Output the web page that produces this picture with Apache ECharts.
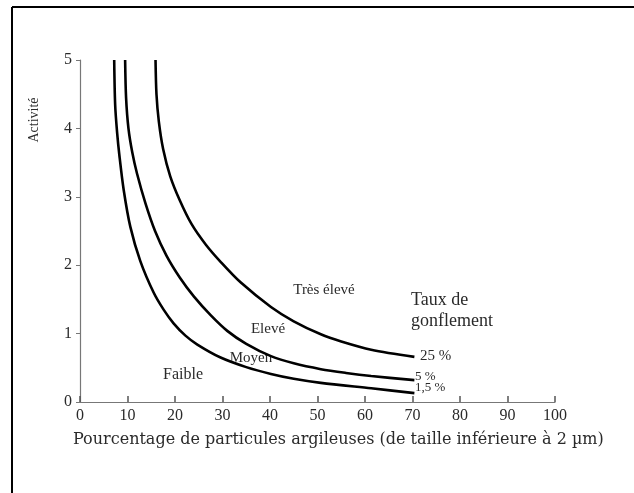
<!DOCTYPE html>
<html><head><meta charset="utf-8">
<script src="https://cdn.jsdelivr.net/npm/echarts@6/dist/echarts.min.js"></script>
<style>html,body{margin:0;padding:0;background:#fff}#c{width:634px;height:493px}</style>
</head><body><div id="c"></div>
<script>
// Curve 25 % (Très élevé)
const curve25 = [[15.9,5],[16.1,4.5],[16.6,4.1],[17.5,3.7],[19.0,3.3],[21.0,2.95],[23.5,2.6],[26.5,2.3],[29.6,2.05],[33.8,1.75],[40.2,1.39],[45,1.18],[50.7,0.99],[55,0.885],[61.3,0.765],[70.4,0.66]];
// Curve 5 % (Elevé)
const curve5 = [[9.5,5],[9.7,4.45],[10.2,4.0],[11.0,3.65],[12.0,3.34],[13.8,2.9],[15.8,2.5],[18.2,2.14],[21,1.82],[24,1.54],[27.5,1.27],[31,1.04],[35,0.85],[40.2,0.67],[45,0.565],[50.7,0.48],[56,0.425],[61.3,0.38],[70.4,0.32]];
// Curve 1,5 % (Moyen / Faible)
const curve15 = [[7.2,5],[7.4,4.35],[7.8,3.95],[8.3,3.6],[9.2,3.1],[10.6,2.56],[12.7,2.06],[15.5,1.6],[17.6,1.35],[19.7,1.15],[22.2,0.97],[24.7,0.84],[29.6,0.65],[35,0.51],[40.2,0.41],[45,0.34],[50.7,0.28],[61.3,0.20],[70.4,0.13]];
const xTicks = [0,10,20,30,40,50,60,70,80,90,100];
const yTicks = [0,1,2,3,4,5];
const xTitle = 'Pourcentage de particules argileuses (de taille inférieure à 2 µm)';
const yTitle = 'Activité';
const zoneLabels = ['Très élevé','Elevé','Moyen','Faible'];
const rateLabels = ['25 %','5 %','1,5 %'];
const legendTitle = 'Taux de\ngonflement';

const chart = echarts.init(document.getElementById('c'));
const font = '"Liberation Serif", "DejaVu Serif", serif';
const wide = '"DejaVu Serif", serif';
const txt = '#2a2a2a';
function line(data){
  return {type:'line', data:data, smooth:0.3, symbol:'none', lineStyle:{color:'#000', width:2.6}, silent:true};
}
chart.setOption({
  animation:false,
  backgroundColor:'#fff',
  grid:{left:80, right:79, top:60, bottom:91},
  xAxis:{type:'value', min:0, max:100, interval:10,
    axisLine:{lineStyle:{color:'#777', width:1.2}},
    axisTick:{inside:true, length:6, lineStyle:{color:'#555', width:1.5}},
    axisLabel:{color:txt, fontFamily:font, fontSize:16, margin:6},
    splitLine:{show:false}},
  yAxis:{type:'value', min:0, max:5, interval:1,
    axisLine:{show:true, lineStyle:{color:'#777', width:1.2}},
    axisTick:{show:true, length:4, lineStyle:{color:'#777'}},
    axisLabel:{color:txt, fontFamily:font, fontSize:16, margin:8},
    splitLine:{show:false}},
  series:[line(curve25), line(curve5), line(curve15)],
  graphic:[
    {type:'line', shape:{x1:12,y1:7,x2:634,y2:7}, style:{stroke:'#000', lineWidth:2}},
    {type:'line', shape:{x1:12,y1:7,x2:12,y2:493}, style:{stroke:'#000', lineWidth:2}},
    {type:'text', x:34, y:120, rotation:Math.PI/2, style:{text:yTitle, fill:txt, font:'14px '+font, align:'center', verticalAlign:'middle'}},
    {type:'text', x:73, y:440, style:{text:xTitle, fill:txt, font:'16px '+wide, align:'left', verticalAlign:'middle'}},
    {type:'text', x:324, y:290, style:{text:zoneLabels[0], fill:txt, font:'15px '+font, align:'center', verticalAlign:'middle'}},
    {type:'text', x:268, y:329, style:{text:zoneLabels[1], fill:txt, font:'15px '+font, align:'center', verticalAlign:'middle'}},
    {type:'text', x:251, y:358, style:{text:zoneLabels[2], fill:txt, font:'15px '+font, align:'center', verticalAlign:'middle'}},
    {type:'text', x:183, y:375, style:{text:zoneLabels[3], fill:txt, font:'16px '+font, align:'center', verticalAlign:'middle'}},
    {type:'text', x:411, y:311, style:{text:legendTitle, fill:txt, font:'18px '+font, align:'left', verticalAlign:'middle', lineHeight:21}},
    {type:'text', x:420, y:356, style:{text:rateLabels[0], fill:txt, font:'15px '+font, align:'left', verticalAlign:'middle'}},
    {type:'text', x:415, y:377, style:{text:rateLabels[1], fill:txt, font:'13px '+font, align:'left', verticalAlign:'middle'}},
    {type:'text', x:415, y:388, style:{text:rateLabels[2], fill:txt, font:'13px '+font, align:'left', verticalAlign:'middle'}}
  ]
});
</script></body></html>
